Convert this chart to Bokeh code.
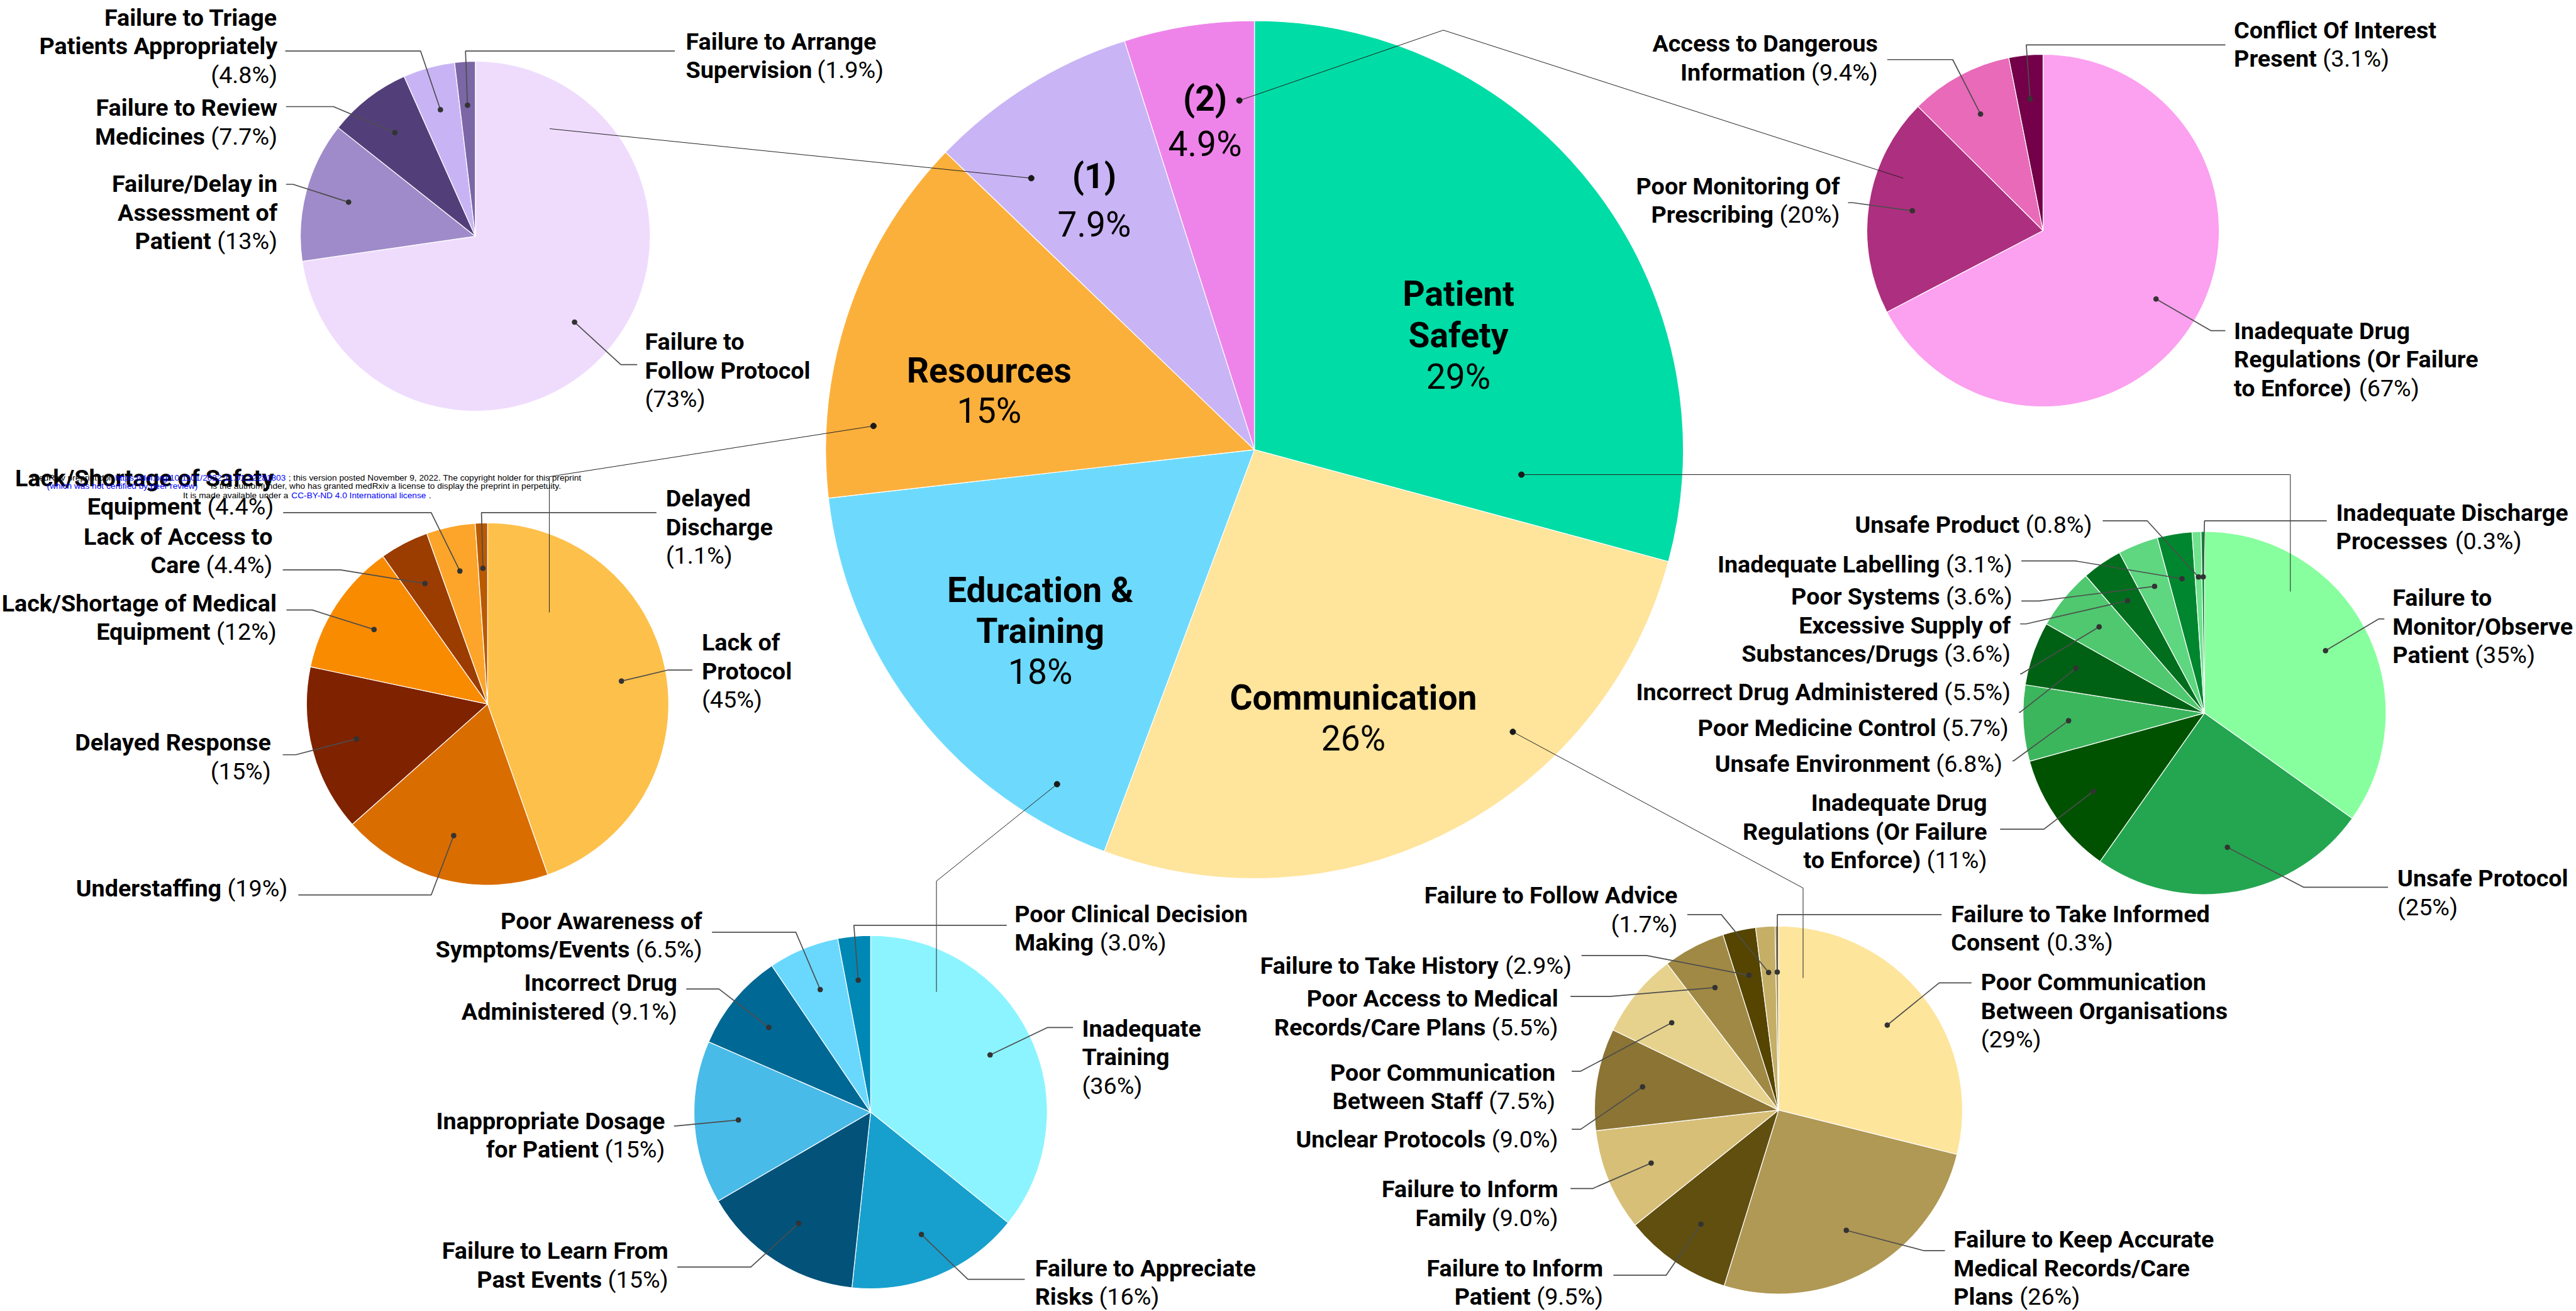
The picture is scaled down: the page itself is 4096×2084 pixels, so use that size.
import math
from bokeh.plotting import figure
from bokeh.models import Range1d, ColumnDataSource
from bokeh.embed import file_html
from bokeh.resources import INLINE
from bokeh.core.properties import value

# ------------------------------------------------------------------ data
main_categories = ["Patient\nSafety", "Communication", "Education &\nTraining", "Resources", "(1)", "(2)"]
main_values = [29.2, 26.5, 17.5, 14.0, 7.9, 4.9]
main_pct = ["29%", "26%", "18%", "15%", "7.9%", "4.9%"]
main_colors = ["#00DCA5", "#FFE49C", "#6DDAFD", "#FCB03C", "#C9B4F5", "#EE84EA"]

# (1) sub-group
s1_names = ["Failure to\nFollow Protocol", "Failure/Delay in\nAssessment of\nPatient", "Failure to Review\nMedicines",
            "Failure to Triage\nPatients Appropriately", "Failure to Arrange\nSupervision"]
s1_values = [73, 13, 7.7, 4.8, 1.9]
s1_pct = ["(73%)", "(13%)", "(7.7%)", "(4.8%)", "(1.9%)"]
s1_colors = ["#EFDCFD", "#9F8BC9", "#523F7A", "#C8B4F5", "#7B66A6"]

# (2) sub-group
s2_names = ["Inadequate Drug\nRegulations (Or Failure\nto Enforce)", "Poor Monitoring Of\nPrescribing",
            "Access to Dangerous\nInformation", "Conflict Of Interest\nPresent"]
s2_values = [67, 20, 9.4, 3.1]
s2_pct = ["(67%)", "(20%)", "(9.4%)", "(3.1%)"]
s2_colors = ["#FCA0F0", "#AD2F7F", "#E86AB8", "#730048"]

# Resources
s3_names = ["Lack of\nProtocol", "Understaffing", "Delayed Response", "Lack/Shortage of Medical\nEquipment",
            "Lack of Access to\nCare", "Lack/Shortage of Safety\nEquipment", "Delayed\nDischarge"]
s3_values = [45, 19, 15, 12, 4.4, 4.4, 1.1]
s3_pct = ["(45%)", "(19%)", "(15%)", "(12%)", "(4.4%)", "(4.4%)", "(1.1%)"]
s3_colors = ["#FDC04A", "#D96D00", "#7F2200", "#F98B00", "#9B3C00", "#FCA52A", "#BA5A00"]

# Patient Safety
s4_names = ["Failure to\nMonitor/Observe\nPatient", "Unsafe Protocol", "Inadequate Drug\nRegulations (Or Failure\nto Enforce)",
            "Unsafe Environment", "Poor Medicine Control", "Incorrect Drug Administered",
            "Excessive Supply of\nSubstances/Drugs", "Poor Systems", "Inadequate Labelling", "Unsafe Product",
            "Inadequate Discharge\nProcesses"]
s4_values = [35, 25, 11, 6.8, 5.7, 5.5, 3.6, 3.6, 3.1, 0.8, 0.3]
s4_pct = ["(35%)", "(25%)", "(11%)", "(6.8%)", "(5.7%)", "(5.5%)", "(3.6%)", "(3.6%)", "(3.1%)", "(0.8%)", "(0.3%)"]
s4_colors = ["#87FF9E", "#24A650", "#005200", "#3CB65C", "#006114", "#4FC86F", "#006E1D", "#5FD680",
             "#00862F", "#6FE38E", "#0A8A35"]

# Education & Training
s5_names = ["Inadequate\nTraining", "Failure to Appreciate\nRisks", "Failure to Learn From\nPast Events",
            "Inappropriate Dosage\nfor Patient", "Incorrect Drug\nAdministered", "Poor Awareness of\nSymptoms/Events",
            "Poor Clinical Decision\nMaking"]
s5_values = [36, 16, 15, 15, 9.1, 6.5, 3.0]
s5_pct = ["(36%)", "(16%)", "(15%)", "(15%)", "(9.1%)", "(6.5%)", "(3.0%)"]
s5_colors = ["#8CF4FF", "#17A0CE", "#02527A", "#48BBE8", "#006894", "#6AD8FD", "#0088B5"]

# Communication
s6_names = ["Poor Communication\nBetween Organisations", "Failure to Keep Accurate\nMedical Records/Care\nPlans",
            "Failure to Inform\nPatient", "Failure to Inform\nFamily", "Unclear Protocols",
            "Poor Communication\nBetween Staff", "Poor Access to Medical\nRecords/Care Plans",
            "Failure to Take History", "Failure to Follow Advice", "Failure to Take Informed\nConsent"]
s6_values = [29, 26, 9.5, 9.0, 9.0, 7.5, 5.5, 2.9, 1.7, 0.3]
s6_pct = ["(29%)", "(26%)", "(9.5%)", "(9.0%)", "(9.0%)", "(7.5%)", "(5.5%)", "(2.9%)", "(1.7%)", "(0.3%)"]
s6_colors = ["#FEE59C", "#B09855", "#614F10", "#D7BF78", "#8B7434", "#E7D28D", "#A08944", "#554500",
             "#C5AE66", "#A89050"]

header_lines = [
    [("medRxiv preprint doi: ", "#000000"), ("https://doi.org/10.1101/2022.11.01.22281803", "#0000FF"),
     ("; this version posted November 9, 2022. The copyright holder for this preprint", "#000000")],
    [("(which was not certified by peer review)", "#0000FF"),
     (" is the author/funder, who has granted medRxiv a license to display the preprint in perpetuity.", "#000000")],
    [("It is made available under a ", "#000000"), ("CC-BY-ND 4.0 International license", "#0000FF"), (" .", "#000000")],
]

# ------------------------------------------------------------------ layout (reference pixel units)
W_REF, H_REF = 6300, 3206
S = 0.65                      # screen px per reference px
PW, PH = 4094, 2082

pie_geom = {"main": (3068, 1099, 1049), "s1": (1162, 577, 428), "s2": (4997, 563, 431),
            "s3": (1192, 1721, 443), "s4": (5392, 1743, 444), "s5": (2129, 2719, 432), "s6": (4350, 2714, 450)}

# (align, x, first line y, pct on own line, leader end x, leader y, elbow x)
s1_layout = [("left", 1577, 855, True, 1558, 891, 1518), ("right", 678, 469, False, 699, 450, 716),
             ("right", 678, 283, False, 699, 260, 815), ("right", 678, 62, True, 697, 124, 1028),
             ("left", 1677, 120, False, 1650, 124, 1138)]
s2_layout = [("left", 5464, 828, False, 5443, 808, 5408), ("right", 4500, 474, False, 4520, 495, 4532),
             ("right", 4593, 126, False, 4616, 145, 4776), ("left", 5464, 93, False, 5443, 109, 4956)]
s3_layout = [("left", 1716, 1590, True, 1693, 1638, 1632), ("right", 703, 2191, False, 729, 2188, 1054),
             ("right", 662, 1835, True, 691, 1845, 723), ("right", 676, 1494, False, 700, 1491, 763),
             ("right", 666, 1331, False, 691, 1393, 832), ("right", 669, 1188, False, 692, 1253, 1054),
             ("left", 1628, 1238, True, 1605, 1253, 1177)]
s4_layout = [("left", 5852, 1481, False, 5832, 1513, 5818), ("left", 5864, 2167, True, 5841, 2169, 5634),
             ("right", 4860, 1983, False, 4892, 2027, 4999), ("right", 4898, 1887, False, 4922, 1860, 4925),
             ("right", 4913, 1799, False, 4938, 1741, 4941), ("right", 4918, 1711, False, 4941, 1647, 4944),
             ("right", 4918, 1548, False, 4941, 1525, 4956), ("right", 4922, 1478, False, 4944, 1469, 4987),
             ("right", 4922, 1399, False, 4944, 1371, 5076), ("right", 5117, 1303, False, 5143, 1273, 5252),
             ("left", 5714, 1273, False, 5691, 1273, 5392)]
s5_layout = [("left", 2646, 2534, True, 2624, 2512, 2562), ("left", 2531, 3120, False, 2506, 3128, 2367),
             ("right", 1634, 3078, False, 1656, 3098, 1836), ("right", 1626, 2760, False, 1648, 2753, 1652),
             ("right", 1656, 2423, False, 1678, 2418, 1758), ("right", 1717, 2271, False, 1741, 2279, 1946),
             ("left", 2481, 2254, False, 2462, 2262, 2088)]
s6_layout = [("left", 4845, 2421, True, 4822, 2403, 4743), ("left", 4778, 3050, False, 4757, 3058, 4706),
             ("right", 3921, 3120, False, 3946, 3118, 4075), ("right", 3811, 2927, False, 3841, 2906, 3895),
             ("right", 3811, 2805, False, 3844, 2761, 3866), ("right", 3804, 2642, False, 3844, 2619, 3866),
             ("right", 3811, 2461, False, 3841, 2436, 3939), ("right", 3844, 2381, False, 3868, 2336, 4027),
             ("right", 4103, 2209, True, 4127, 2236, 4210), ("left", 4772, 2254, False, 4749, 2236, 4347)]

main_label_pos = [(3567, 717, 102), (3310, 1705, 100), (2544, 1443, 100), (2419, 905, 99), (2676, 430, 118),
                  (2947, 240, 112)]
main_connectors = [[(3721, 1160), (5602, 1160), (5602, 1446)], [(3700, 1789), (4410, 2171), (4410, 2391)],
                   [(2585, 1917), (2290, 2154), (2290, 2425)], [(2136, 1041), (1343, 1165), (1343, 1497)],
                   [(2522, 435), (1344, 314)], [(3031, 245), (3530, 73), (4655, 435)]]
header_pos = [(1167, [77, 281, 705]), (1188, [114, 515]), (1210, [447, 712, 1048])]

FS_SUB, FS_MAIN, FS_HEAD = 58, 85, 21
LS_SUB = 70
SUB_DY = -20

# Roboto regular advance widths (em), approximate
W_EM = {' ': .248, '(': .342, ')': .348, '%': .733, '.': .263, '/': .412, '&': .622,
        'a': .544, 'b': .561, 'c': .523, 'd': .564, 'e': .529, 'f': .347, 'g': .561, 'h': .551, 'i': .243,
        'j': .239, 'k': .507, 'l': .243, 'm': .876, 'n': .552, 'o': .570, 'p': .561, 'q': .568, 'r': .338,
        's': .516, 't': .327, 'u': .551, 'v': .484, 'w': .751, 'x': .496, 'y': .473, 'z': .496,
        'A': .653, 'B': .623, 'C': .651, 'D': .656, 'E': .568, 'F': .553, 'G': .681, 'H': .713, 'I': .272,
        'J': .552, 'K': .627, 'L': .538, 'M': .873, 'N': .713, 'O': .688, 'P': .631, 'Q': .688, 'R': .616,
        'S': .593, 'T': .597, 'U': .648, 'V': .636, 'W': .887, 'X': .627, 'Y': .601, 'Z': .599}


def tw(s, size, bold):
    w = sum(W_EM.get(ch, 0.562) for ch in s) * size
    return w * (1.02 if bold else 1.0)


def Y(v):
    return H_REF - v


p = figure(width=PW, height=PH,
           x_range=Range1d(0, PW / S),
           y_range=Range1d(H_REF - PH / S, H_REF),
           output_backend="svg", toolbar_location=None, x_axis_location=None, y_axis_location=None,
           min_border=0)
p.grid.visible = False
p.outline_line_color = None
p.background_fill_color = "white"
p.border_fill_color = "white"

texts = {}


def add_text(x, y, t, align, bold, size, color="#000000", font="Roboto"):
    key = (align, bold, size, color, font)
    d = texts.setdefault(key, {"x": [], "y": [], "t": []})
    d["x"].append(x)
    d["y"].append(Y(y))
    d["t"].append(t)


leader_xs, leader_ys, dot_x, dot_y = [], [], [], []


def draw_pie(key, vals, colors):
    cx, cy, r = pie_geom[key]
    tot = float(sum(vals))
    cum = 0.0
    starts, ends, mids = [], [], []
    for v in vals:
        a1 = cum / tot * 360.0
        a2 = (cum + v) / tot * 360.0
        cum += v
        starts.append(math.radians(90 - a2))
        ends.append(math.radians(90 - a1))
        mids.append((a1 + a2) / 2)
    src = ColumnDataSource(dict(x=[cx] * len(vals), y=[Y(cy)] * len(vals), s=starts, e=ends, c=colors))
    p.wedge(x="x", y="y", radius=r, start_angle="s", end_angle="e", direction="anticlock",
            fill_color="c", line_color="white", line_width=1.2, source=src)
    return cx, cy, r, mids


def draw_sub(key, names, vals, pcts, colors, layout):
    cx, cy, r, mids = draw_pie(key, vals, colors)
    for name, pct, m, lay in zip(names, pcts, mids, layout):
        align, x, y0, own, ex, ly, elx = lay
        y0 = y0 + SUB_DY
        dx = cx + 0.75 * r * math.sin(math.radians(m))
        dy = cy - 0.75 * r * math.cos(math.radians(m))
        dot_x.append(dx)
        dot_y.append(Y(dy))
        leader_xs.append([ex, elx, dx])
        leader_ys.append([Y(ly), Y(ly), Y(dy)])
        lines = name.split("\n")
        n = len(lines)
        for i, ln in enumerate(lines):
            yy = y0 + i * LS_SUB
            if i == n - 1 and not own:
                if align == "left":
                    add_text(x, yy, ln, "left", True, FS_SUB)
                    add_text(x + tw(ln + " ", FS_SUB, True), yy, pct, "left", False, FS_SUB)
                else:
                    add_text(x, yy, pct, "right", False, FS_SUB)
                    add_text(x - tw(" " + pct, FS_SUB, False), yy, ln, "right", True, FS_SUB)
            else:
                add_text(x, yy, ln, align, True, FS_SUB)
        if own:
            add_text(x, y0 + n * LS_SUB, pct, align, False, FS_SUB)


# main pie
draw_pie("main", main_values, main_colors)
for name, pct, (lx, ly, sp) in zip(main_categories, main_pct, main_label_pos):
    lines = name.split("\n")
    for i, ln in enumerate(lines):
        add_text(lx, ly + i * sp, ln, "center", True, FS_MAIN)
    add_text(lx, ly + len(lines) * sp, pct, "center", False, FS_MAIN)

draw_sub("s1", s1_names, s1_values, s1_pct, s1_colors, s1_layout)
draw_sub("s2", s2_names, s2_values, s2_pct, s2_colors, s2_layout)
draw_sub("s3", s3_names, s3_values, s3_pct, s3_colors, s3_layout)
draw_sub("s4", s4_names, s4_values, s4_pct, s4_colors, s4_layout)
draw_sub("s5", s5_names, s5_values, s5_pct, s5_colors, s5_layout)
draw_sub("s6", s6_names, s6_values, s6_pct, s6_colors, s6_layout)

# connectors from the main pie to the detail pies
p.multi_line(xs=[[pt[0] for pt in c] for c in main_connectors],
             ys=[[Y(pt[1]) for pt in c] for c in main_connectors], line_color="#222222", line_width=1)
p.scatter(x=[c[0][0] for c in main_connectors], y=[Y(c[0][1]) for c in main_connectors],
          size=14 * S, color="#1a1a1a")

# leader lines + dots
p.multi_line(xs=leader_xs, ys=leader_ys, line_color="#4d4d4d", line_width=2.6 * S)
p.scatter(x=dot_x, y=dot_y, size=12 * S, color="#333333")

# header watermark
for (hy, xs), segs in zip(header_pos, header_lines):
    for hx, (t, col) in zip(xs, segs):
        add_text(hx, hy, t, "left", False, FS_HEAD, col, "Liberation Sans")

for (align, bold, size, color, font), d in texts.items():
    src = ColumnDataSource(d)
    p.text(x="x", y="y", text="t", source=src, text_align=align, text_baseline="alphabetic",
           text_font=value(font), text_font_size=f"{size * S:.1f}px",
           text_font_style="bold" if bold else "normal", text_color=color)

open("out.html", "w").write(file_html(p, INLINE))
